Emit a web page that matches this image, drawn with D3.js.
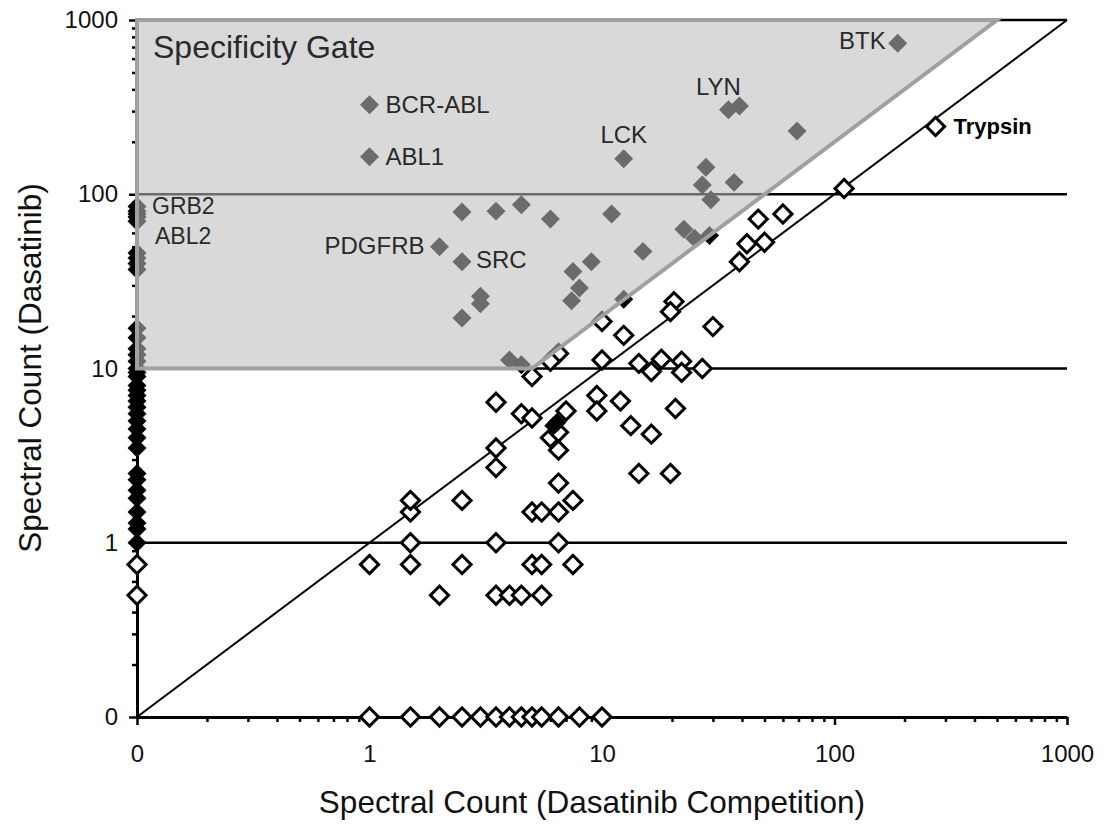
<!DOCTYPE html>
<html>
<head>
<meta charset="utf-8">
<script src="https://cdn.jsdelivr.net/npm/d3@7"></script>
<style>
  body { margin: 0; background: #fff; }
  text { font-family: Arial, 'Liberation Sans', sans-serif; }
</style>
</head>
<body>
<svg width="1109" height="826"></svg>
<script>
// tick values on both axes (0 is drawn one decade below 1)
let tickValues = [0, 1, 10, 100, 1000]
let tickLabels = ['0', '1', '10', '100', '1000']
let gridLevels = [1, 10, 100, 1000]
let diagonal = [0, 1000]

// specificity gate corners: [competition, dasatinib]
let gate = [[0, 10], [5, 10], [500, 1000], [0, 1000]]

// open diamonds: [competition count, dasatinib count]
let openDiamonds = [
  [1, 0], [1.5, 0], [2, 0], [2.5, 0], [3, 0], [3.5, 0], [4, 0], [4.5, 0], [5, 0], [5.5, 0], [6.5, 0], [8, 0], [10, 0],
  [2, 0.5], [3.5, 0.5], [4, 0.5], [4.5, 0.5], [5.5, 0.5],
  [1, 0.75], [1.5, 0.75], [2.5, 0.75], [5, 0.75], [5.5, 0.75], [7.5, 0.75],
  [0, 0.75], [0, 0.5],
  [1.5, 1], [3.5, 1], [6.5, 1],
  [1.5, 1.5], [1.5, 1.75], [2.5, 1.75], [5, 1.5], [5.5, 1.5], [6.5, 1.5], [7.5, 1.75],
  [6.5, 2.2], [3.5, 2.7], [3.5, 3.5], [6.5, 3.4], [6, 4], [6.5, 4.3], [4.5, 5.5], [5, 5.2],
  [7, 5.7], [3.5, 6.4], [5, 9],
  [9.5, 7], [9.5, 5.7], [12, 6.5], [13.3, 4.7], [16.3, 4.2], [20.7, 5.9], [14.4, 2.5], [19.7, 2.5],
  [6.5, 12.2], [6, 11], [10, 11.2], [10, 18.6], [12.4, 15.5], [14.4, 10.7], [16.3, 9.6], [18, 11.3],
  [22, 11], [22, 9.5], [27, 10], [30, 17.4], [20.4, 24.2], [19.7, 21.2],
  [39, 41], [42, 52], [50, 53], [47, 72], [60, 77], [110, 108], [272, 245]
]

// filled diamonds: [competition count, dasatinib count]
let filledDiamonds = [
  [1, 326], [1, 164], [187, 735], [35, 305], [39, 321], [12.4, 160], [69, 231], [28, 143],
  [37, 117], [27, 113], [29.4, 93], [11, 77], [22.5, 63], [25, 56], [29, 58], [15, 47],
  [9, 41], [2, 50], [2.5, 41], [2.5, 79], [3.5, 80], [4.5, 87], [6, 72], [7.5, 36], [8, 29],
  [7.4, 24.5], [3, 26], [3, 23.5], [2.5, 19.5], [12.4, 25], [4, 11.2], [4.5, 10.5],
  [6.4, 4.9], [6.2, 4.7]
]

// filled diamonds with zero competition count: dasatinib counts
let zeroColumn = [
  85, 80, 77, 74, 70, 46, 43, 40, 37, 17, 15, 13, 12, 11, 10,
  9.5, 9, 8, 7.5, 7, 6.5, 6, 5.5, 5, 4.5, 4, 3.5,
  2.5, 2.3, 2, 1.8, 1.5, 1.3, 1.2, 1
]

// labelled proteins: [name, competition, dasatinib]
let labels = [
  ['BCR-ABL', 1, 326], ['ABL1', 1, 164], ['GRB2', 0, 80], ['ABL2', 0, 74],
  ['PDGFRB', 2, 50], ['SRC', 2.5, 41], ['LCK', 12.4, 160], ['LYN', 35, 305],
  ['BTK', 187, 735], ['Trypsin', 272, 245]
]

let v = d => d === 0 ? 0.1 : d

let svg = d3.select('svg')

let x = d3.scaleLog().domain([0.1, 1000]).range([137, 1067])
let y = d3.scaleLog().domain([0.1, 1000]).range([717, 20])

let minor = []
for (let e = -1; e < 3; e++) {
  for (let k = 2; k < 10; k++) minor.push(k * Math.pow(10, e))
}

// axes
svg.append('g')
    .attr('transform', 'translate(0,717)')
    .call(d3.axisBottom(x)
      .tickValues(tickValues.map(v))
      .tickFormat((d, i) => tickLabels[i])
      .tickSize(8).tickSizeOuter(0).tickPadding(20))
svg.append('g')
    .attr('transform', 'translate(0,717)')
    .call(d3.axisBottom(x).tickValues(minor).tickFormat('').tickSize(5))
    .select('.domain').remove()

svg.append('g')
    .attr('transform', 'translate(137,0)')
    .call(d3.axisLeft(y)
      .tickValues(tickValues.map(v))
      .tickFormat((d, i) => tickLabels[i])
      .tickSize(8).tickSizeOuter(0).tickPadding(11))
svg.append('g')
    .attr('transform', 'translate(137,0)')
    .call(d3.axisLeft(y).tickValues(minor).tickFormat('').tickSize(5))
    .select('.domain').remove()

svg.selectAll('.domain').attr('stroke', '#000').attr('stroke-width', 3)
svg.selectAll('.tick line').attr('stroke', '#000').attr('stroke-width', 2.5)
svg.selectAll('.tick text')
    .attr('font-size', 24)
    .attr('font-family', 'Arial, Liberation Sans, sans-serif')
    .attr('fill', '#111')

// grid lines and diagonal
svg.append('g').selectAll('line')
  .data(gridLevels)
  .enter().append('line')
    .attr('x1', x(0.1))
    .attr('x2', x(1000))
    .attr('y1', d => y(d))
    .attr('y2', d => y(d))
    .attr('stroke', '#000')
    .attr('stroke-width', 2.5)

svg.append('path')
    .datum(diagonal)
    .attr('d', d3.line().x(d => x(v(d))).y(d => y(v(d))))
    .attr('stroke', '#000')
    .attr('stroke-width', 2)
    .attr('fill', 'none')

// diamonds
svg.append('g').selectAll('path')
  .data(openDiamonds)
  .enter().append('path')
    .attr('d', d3.symbol().type(d3.symbolSquare).size(165))
    .attr('transform', d => 'translate(' + x(v(d[0])) + ',' + y(v(d[1])) + ') rotate(45)')
    .attr('fill', '#fff')
    .attr('stroke', '#000')
    .attr('stroke-width', 3)

svg.append('g').selectAll('path')
  .data(filledDiamonds.concat(zeroColumn.map(d => [0, d])))
  .enter().append('path')
    .attr('d', d3.symbol().type(d3.symbolSquare).size(180))
    .attr('transform', d => 'translate(' + x(v(d[0])) + ',' + y(v(d[1])) + ') rotate(45)')
    .attr('fill', '#000')

// specificity gate, semi transparent over the points
svg.append('polygon')
    .attr('points', gate.map(d => [x(v(d[0])), y(v(d[1]))].join(',')).join(' '))
    .attr('fill', 'rgb(188,188,188)')
    .attr('fill-opacity', 0.57)
    .attr('stroke', '#a0a0a0')
    .attr('stroke-width', 4)

svg.append('text')
    .attr('x', 153)
    .attr('y', 58)
    .attr('font-size', 32)
    .attr('fill', '#2a2a2a')
    .text('Specificity Gate')

// protein labels
let place = {
  'BCR-ABL': [16, 0, 'start'],
  'ABL1': [16, 0, 'start'],
  'GRB2': [15, -5, 'start'],
  'ABL2': [18, 19, 'start'],
  'PDGFRB': [-15, -1, 'end'],
  'SRC': [14, -2, 'start'],
  'LCK': [0, -24, 'middle'],
  'LYN': [-10, -23, 'middle'],
  'BTK': [-12, -3, 'end'],
  'Trypsin': [18, 0, 'start']
}

svg.append('g').selectAll('text')
  .data(labels)
  .enter().append('text')
    .attr('x', d => x(v(d[1])) + place[d[0]][0])
    .attr('y', d => y(v(d[2])) + place[d[0]][1])
    .attr('dy', '0.35em')
    .attr('text-anchor', d => place[d[0]][2])
    .attr('font-size', d => d[0] === 'Trypsin' ? 22 : (d[1] === 0 ? 23 : 24))
    .attr('font-weight', d => d[0] === 'Trypsin' ? 700 : 400)
    .attr('fill', d => d[0] === 'Trypsin' ? '#000' : '#2a2a2a')
    .text(d => d[0])

// axis titles
svg.append('text')
    .attr('x', 592)
    .attr('y', 813)
    .attr('text-anchor', 'middle')
    .attr('font-size', 31.5)
    .attr('fill', '#111')
    .text('Spectral Count (Dasatinib Competition)')

svg.append('text')
    .attr('transform', 'translate(41,368) rotate(-90)')
    .attr('text-anchor', 'middle')
    .attr('font-size', 31.5)
    .attr('fill', '#111')
    .text('Spectral Count (Dasatinib)')
</script>
</body>
</html>
